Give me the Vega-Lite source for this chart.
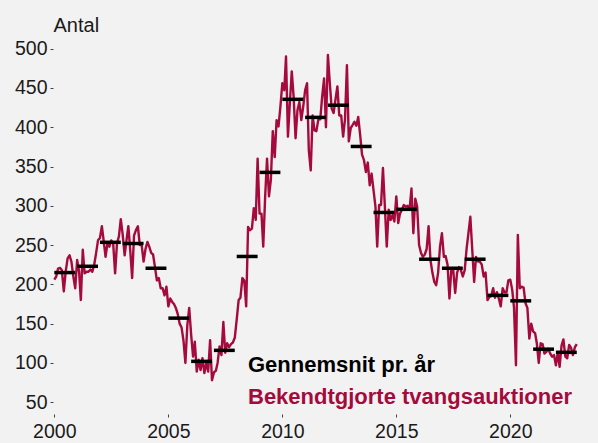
{
  "$schema": "https://vega.github.io/schema/vega-lite/v6.json",
  "width": 537,
  "height": 374,
  "autosize": {"type": "none"},
  "padding": {"left": 53, "top": 40, "right": 8, "bottom": 29},
  "background": "#f2f2f2",
  "config": {
    "view": {"stroke": null, "fill": "#f2f2f2"},
    "font": "Liberation Sans"
  },
  "datasets": {
    "maaned": [
      {"d":"2000-01-01","v":206},{"d":"2000-02-01","v":210},{"d":"2000-03-01","v":220},{"d":"2000-04-01","v":221},{"d":"2000-05-01","v":218},{"d":"2000-06-01","v":191},{"d":"2000-07-01","v":216},{"d":"2000-08-01","v":233},{"d":"2000-09-01","v":237},{"d":"2000-10-01","v":229},{"d":"2000-11-01","v":210},{"d":"2000-12-01","v":195},
      {"d":"2001-01-01","v":231},{"d":"2001-02-01","v":216},{"d":"2001-03-01","v":180},{"d":"2001-04-01","v":244},{"d":"2001-05-01","v":214},{"d":"2001-06-01","v":216},{"d":"2001-07-01","v":216},{"d":"2001-08-01","v":219},{"d":"2001-09-01","v":216},{"d":"2001-10-01","v":225},{"d":"2001-11-01","v":240},{"d":"2001-12-01","v":256},
      {"d":"2002-01-01","v":259},{"d":"2002-02-01","v":274},{"d":"2002-03-01","v":256},{"d":"2002-04-01","v":235},{"d":"2002-05-01","v":252},{"d":"2002-06-01","v":248},{"d":"2002-07-01","v":256},{"d":"2002-08-01","v":252},{"d":"2002-09-01","v":214},{"d":"2002-10-01","v":252},{"d":"2002-11-01","v":261},{"d":"2002-12-01","v":283},
      {"d":"2003-01-01","v":263},{"d":"2003-02-01","v":237},{"d":"2003-03-01","v":255},{"d":"2003-04-01","v":274},{"d":"2003-05-01","v":244},{"d":"2003-06-01","v":208},{"d":"2003-07-01","v":262},{"d":"2003-08-01","v":269},{"d":"2003-09-01","v":274},{"d":"2003-10-01","v":250},{"d":"2003-11-01","v":250},{"d":"2003-12-01","v":229},
      {"d":"2004-01-01","v":245},{"d":"2004-02-01","v":254},{"d":"2004-03-01","v":248},{"d":"2004-04-01","v":240},{"d":"2004-05-01","v":238},{"d":"2004-06-01","v":222},{"d":"2004-07-01","v":205},{"d":"2004-08-01","v":208},{"d":"2004-09-01","v":195},{"d":"2004-10-01","v":195},{"d":"2004-11-01","v":186},{"d":"2004-12-01","v":197},
      {"d":"2005-01-01","v":172},{"d":"2005-02-01","v":182},{"d":"2005-03-01","v":178},{"d":"2005-04-01","v":175},{"d":"2005-05-01","v":170},{"d":"2005-06-01","v":162},{"d":"2005-07-01","v":150},{"d":"2005-08-01","v":145},{"d":"2005-09-01","v":128},{"d":"2005-10-01","v":100},{"d":"2005-11-01","v":148},{"d":"2005-12-01","v":170},
      {"d":"2006-01-01","v":136},{"d":"2006-02-01","v":108},{"d":"2006-03-01","v":127},{"d":"2006-04-01","v":89},{"d":"2006-05-01","v":104},{"d":"2006-06-01","v":91},{"d":"2006-07-01","v":106},{"d":"2006-08-01","v":87},{"d":"2006-09-01","v":100},{"d":"2006-10-01","v":89},{"d":"2006-11-01","v":129},{"d":"2006-12-01","v":78},
      {"d":"2007-01-01","v":88},{"d":"2007-02-01","v":90},{"d":"2007-03-01","v":100},{"d":"2007-04-01","v":121},{"d":"2007-05-01","v":110},{"d":"2007-06-01","v":152},{"d":"2007-07-01","v":113},{"d":"2007-08-01","v":125},{"d":"2007-09-01","v":120},{"d":"2007-10-01","v":124},{"d":"2007-11-01","v":126},{"d":"2007-12-01","v":132},
      {"d":"2008-01-01","v":155},{"d":"2008-02-01","v":180},{"d":"2008-03-01","v":183},{"d":"2008-04-01","v":208},{"d":"2008-05-01","v":205},{"d":"2008-06-01","v":172},{"d":"2008-07-01","v":273},{"d":"2008-08-01","v":269},{"d":"2008-09-01","v":271},{"d":"2008-10-01","v":297},{"d":"2008-11-01","v":282},{"d":"2008-12-01","v":360},
      {"d":"2009-01-01","v":290},{"d":"2009-02-01","v":290},{"d":"2009-03-01","v":248},{"d":"2009-04-01","v":312},{"d":"2009-05-01","v":360},{"d":"2009-06-01","v":312},{"d":"2009-07-01","v":333},{"d":"2009-08-01","v":395},{"d":"2009-09-01","v":362},{"d":"2009-10-01","v":409},{"d":"2009-11-01","v":401},{"d":"2009-12-01","v":426},
      {"d":"2010-01-01","v":456},{"d":"2010-02-01","v":447},{"d":"2010-03-01","v":490},{"d":"2010-04-01","v":388},{"d":"2010-05-01","v":430},{"d":"2010-06-01","v":471},{"d":"2010-07-01","v":439},{"d":"2010-08-01","v":386},{"d":"2010-09-01","v":422},{"d":"2010-10-01","v":432},{"d":"2010-11-01","v":409},{"d":"2010-12-01","v":426},
      {"d":"2011-01-01","v":447},{"d":"2011-02-01","v":456},{"d":"2011-03-01","v":371},{"d":"2011-04-01","v":345},{"d":"2011-05-01","v":415},{"d":"2011-06-01","v":396},{"d":"2011-07-01","v":395},{"d":"2011-08-01","v":410},{"d":"2011-09-01","v":410},{"d":"2011-10-01","v":439},{"d":"2011-11-01","v":462},{"d":"2011-12-01","v":400},
      {"d":"2012-01-01","v":492},{"d":"2012-02-01","v":456},{"d":"2012-03-01","v":424},{"d":"2012-04-01","v":418},{"d":"2012-05-01","v":435},{"d":"2012-06-01","v":452},{"d":"2012-07-01","v":415},{"d":"2012-08-01","v":415},{"d":"2012-09-01","v":388},{"d":"2012-10-01","v":410},{"d":"2012-11-01","v":479},{"d":"2012-12-01","v":382},
      {"d":"2013-01-01","v":399},{"d":"2013-02-01","v":403},{"d":"2013-03-01","v":407},{"d":"2013-04-01","v":402},{"d":"2013-05-01","v":413},{"d":"2013-06-01","v":390},{"d":"2013-07-01","v":365},{"d":"2013-08-01","v":358},{"d":"2013-09-01","v":343},{"d":"2013-10-01","v":355},{"d":"2013-11-01","v":326},{"d":"2013-12-01","v":341},
      {"d":"2014-01-01","v":320},{"d":"2014-02-01","v":299},{"d":"2014-03-01","v":248},{"d":"2014-04-01","v":301},{"d":"2014-05-01","v":301},{"d":"2014-06-01","v":348},{"d":"2014-07-01","v":300},{"d":"2014-08-01","v":248},{"d":"2014-09-01","v":295},{"d":"2014-10-01","v":282},{"d":"2014-11-01","v":288},{"d":"2014-12-01","v":280},
      {"d":"2015-01-01","v":312},{"d":"2015-02-01","v":278},{"d":"2015-03-01","v":290},{"d":"2015-04-01","v":295},{"d":"2015-05-01","v":301},{"d":"2015-06-01","v":299},{"d":"2015-07-01","v":300},{"d":"2015-08-01","v":295},{"d":"2015-09-01","v":322},{"d":"2015-10-01","v":265},{"d":"2015-11-01","v":309},{"d":"2015-12-01","v":299},
      {"d":"2016-01-01","v":250},{"d":"2016-02-01","v":240},{"d":"2016-03-01","v":235},{"d":"2016-04-01","v":238},{"d":"2016-05-01","v":245},{"d":"2016-06-01","v":274},{"d":"2016-07-01","v":231},{"d":"2016-08-01","v":215},{"d":"2016-09-01","v":203},{"d":"2016-10-01","v":199},{"d":"2016-11-01","v":215},{"d":"2016-12-01","v":248},
      {"d":"2017-01-01","v":265},{"d":"2017-02-01","v":235},{"d":"2017-03-01","v":236},{"d":"2017-04-01","v":225},{"d":"2017-05-01","v":182},{"d":"2017-06-01","v":220},{"d":"2017-07-01","v":218},{"d":"2017-08-01","v":189},{"d":"2017-09-01","v":215},{"d":"2017-10-01","v":222},{"d":"2017-11-01","v":218},{"d":"2017-12-01","v":210},
      {"d":"2018-01-01","v":218},{"d":"2018-02-01","v":246},{"d":"2018-03-01","v":265},{"d":"2018-04-01","v":286},{"d":"2018-05-01","v":245},{"d":"2018-06-01","v":203},{"d":"2018-07-01","v":235},{"d":"2018-08-01","v":229},{"d":"2018-09-01","v":229},{"d":"2018-10-01","v":225},{"d":"2018-11-01","v":210},{"d":"2018-12-01","v":215},
      {"d":"2019-01-01","v":180},{"d":"2019-02-01","v":184},{"d":"2019-03-01","v":185},{"d":"2019-04-01","v":195},{"d":"2019-05-01","v":183},{"d":"2019-06-01","v":190},{"d":"2019-07-01","v":182},{"d":"2019-08-01","v":172},{"d":"2019-09-01","v":195},{"d":"2019-10-01","v":190},{"d":"2019-11-01","v":190},{"d":"2019-12-01","v":205},
      {"d":"2020-01-01","v":206},{"d":"2020-02-01","v":193},{"d":"2020-03-01","v":170},{"d":"2020-04-01","v":97},{"d":"2020-05-01","v":263},{"d":"2020-06-01","v":195},{"d":"2020-07-01","v":197},{"d":"2020-08-01","v":196},{"d":"2020-09-01","v":176},{"d":"2020-10-01","v":170},{"d":"2020-11-01","v":131},{"d":"2020-12-01","v":150},
      {"d":"2021-01-01","v":140},{"d":"2021-02-01","v":138},{"d":"2021-03-01","v":125},{"d":"2021-04-01","v":100},{"d":"2021-05-01","v":125},{"d":"2021-06-01","v":124},{"d":"2021-07-01","v":112},{"d":"2021-08-01","v":114},{"d":"2021-09-01","v":118},{"d":"2021-10-01","v":112},{"d":"2021-11-01","v":108},{"d":"2021-12-01","v":110},
      {"d":"2022-01-01","v":97},{"d":"2022-02-01","v":114},{"d":"2022-03-01","v":95},{"d":"2022-04-01","v":122},{"d":"2022-05-01","v":130},{"d":"2022-06-01","v":108},{"d":"2022-07-01","v":106},{"d":"2022-08-01","v":123},{"d":"2022-09-01","v":119},{"d":"2022-10-01","v":110},{"d":"2022-11-01","v":120},{"d":"2022-12-01","v":124}
    ],
    "aar": [
      {"fra":"2000-01-01","til":"2000-12-01","gns":215},
      {"fra":"2001-01-01","til":"2001-12-01","gns":223},
      {"fra":"2002-01-01","til":"2002-12-01","gns":253.5},
      {"fra":"2003-01-01","til":"2003-12-01","gns":252},
      {"fra":"2004-01-01","til":"2004-12-01","gns":220.5},
      {"fra":"2005-01-01","til":"2005-12-01","gns":157},
      {"fra":"2006-01-01","til":"2006-12-01","gns":102},
      {"fra":"2007-01-01","til":"2007-12-01","gns":116},
      {"fra":"2008-01-01","til":"2008-12-01","gns":235.5},
      {"fra":"2009-01-01","til":"2009-12-01","gns":342.5},
      {"fra":"2010-01-01","til":"2010-12-01","gns":435.5},
      {"fra":"2011-01-01","til":"2011-12-01","gns":412.5},
      {"fra":"2012-01-01","til":"2012-12-01","gns":428},
      {"fra":"2013-01-01","til":"2013-12-01","gns":375.5},
      {"fra":"2014-01-01","til":"2014-12-01","gns":291.5},
      {"fra":"2015-01-01","til":"2015-12-01","gns":295.5},
      {"fra":"2016-01-01","til":"2016-12-01","gns":232},
      {"fra":"2017-01-01","til":"2017-12-01","gns":220.5},
      {"fra":"2018-01-01","til":"2018-12-01","gns":232},
      {"fra":"2019-01-01","til":"2019-12-01","gns":186},
      {"fra":"2020-01-01","til":"2020-12-01","gns":179},
      {"fra":"2021-01-01","til":"2021-12-01","gns":117.5},
      {"fra":"2022-01-01","til":"2022-12-01","gns":113.5}
    ],
    "etiketter": [
      {"tekst": "Gennemsnit pr. år", "serie": "gns"},
      {"tekst": "Bekendtgjorte tvangsauktioner", "serie": "maaned"}
    ]
  },
  "layer": [
    {
      "data": {"name": "maaned"},
      "mark": {"type": "line", "color": "#a50a3c", "strokeWidth": 2.4, "strokeJoin": "round"},
      "encoding": {
        "x": {
          "field": "d", "type": "temporal",
          "scale": {"type": "utc", "domain": [{"year": 1999, "month": 12, "date": 11, "utc": true}, {"year": 2023, "month": 7, "date": 1, "utc": true}]},
          "axis": {
            "values": [{"year": 2000, "month": 1, "date": 1, "utc": true}, {"year": 2005, "month": 1, "date": 1, "utc": true}, {"year": 2010, "month": 1, "date": 1, "utc": true}, {"year": 2015, "month": 1, "date": 1, "utc": true}, {"year": 2020, "month": 1, "date": 1, "utc": true}],
            "format": "%Y", "formatType": "utc",
            "title": null, "domain": false, "grid": false,
            "tickSize": 3, "tickColor": "#444", "tickWidth": 1,
            "labelFontSize": 19.5, "labelColor": "#1a1a1a", "labelPadding": 5, "labelFont": "Liberation Sans"
          }
        },
        "y": {
          "field": "v", "type": "quantitative",
          "scale": {"domain": [35, 511], "nice": false, "zero": false},
          "axis": {
            "values": [50, 100, 150, 200, 250, 300, 350, 400, 450, 500],
            "title": "Antal", "titleAngle": 0, "titleAlign": "left", "titleBaseline": "alphabetic",
            "titleX": 0, "titleY": -9, "titleFontWeight": "normal", "titleFontSize": 20, "titleColor": "#1a1a1a", "titleFont": "Liberation Sans",
            "domain": false, "grid": false,
            "tickSize": 3, "tickColor": "#444", "tickWidth": 1,
            "labelFontSize": 19.5, "labelColor": "#1a1a1a", "labelPadding": 3, "labelFont": "Liberation Sans"
          }
        }
      }
    },
    {
      "data": {"name": "aar"},
      "mark": {"type": "rule", "color": "#000000", "strokeWidth": 3.5},
      "encoding": {
        "x": {"field": "fra", "type": "temporal"},
        "x2": {"field": "til"},
        "y": {"field": "gns", "type": "quantitative"}
      }
    },
    {
      "data": {"name": "etiketter"},
      "transform": [{"filter": "datum.serie === 'gns'"}],
      "mark": {"type": "text", "align": "left", "baseline": "alphabetic", "fontSize": 22, "fontWeight": "bold", "font": "Liberation Sans", "color": "#000000"},
      "encoding": {
        "text": {"field": "tekst"},
        "x": {"datum": {"year": 2008, "month": 6, "date": 30, "utc": true}, "type": "temporal"},
        "y": {"datum": 88.5, "type": "quantitative"}
      }
    },
    {
      "data": {"name": "etiketter"},
      "transform": [{"filter": "datum.serie === 'maaned'"}],
      "mark": {"type": "text", "align": "left", "baseline": "alphabetic", "fontSize": 22, "fontWeight": "bold", "font": "Liberation Sans", "color": "#a50a3c"},
      "encoding": {
        "text": {"field": "tekst"},
        "x": {"datum": {"year": 2008, "month": 6, "date": 30, "utc": true}, "type": "temporal"},
        "y": {"datum": 47.8, "type": "quantitative"}
      }
    }
  ]
}
